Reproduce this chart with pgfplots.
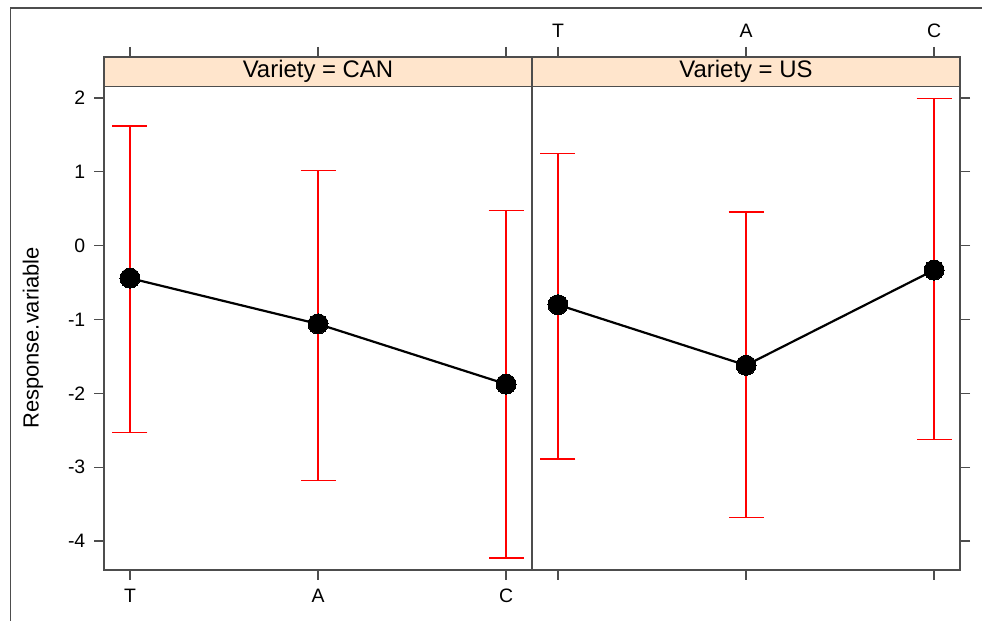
\documentclass[border=0pt]{standalone}
\usepackage{fontspec}
\setmainfont{Liberation Sans}
\usepackage{pgfplots}
\pgfplotsset{compat=1.18}
\definecolor{stripcol}{HTML}{FFE5CC}
\definecolor{axcol}{HTML}{4D4D4D}
\pgfplotsset{
  panel/.style={
    scale only axis, width=428bp, height=513bp,
    xmin=0.862, xmax=3.138, ymin=-4.393, ymax=2.556,
    xtick={1,2,3}, xticklabels={T,A,C}, ytick={-4,-3,-2,-1,0,1,2},
    tick align=outside, major tick length=10bp,
    tick style={axcol, line width=1.2bp},
    axis line style={axcol, line width=1.2bp},
    axis on top,
    /pgf/number format/assume math mode=true,
    every tick label/.append style={font=\fontsize{19.5}{21}\selectfont},
    xtick pos=both,
  },
  ebar/.style={only marks, mark=none, forget plot,
    error bars/.cd, y dir=both, y explicit, error mark=|,
    error bar style={red, line width=1.3bp},
    error mark options={red, mark size=17.5bp, line width=1.3bp}},
  meanline/.style={black, line width=2.2bp, mark=*, mark size=10bp,
    mark options={fill=black, line width=0pt}},
}
\pgfplotstableread{
x y ep em
1 -0.44 2.06 2.09
2 -1.06 2.08 2.12
3 -1.875 2.355 2.355
}\can
\pgfplotstableread{
x y ep em
1 -0.80 2.05 2.09
2 -1.62 2.075 2.06
3 -0.33 2.32 2.30
}\us
\begin{document}
\begin{tikzpicture}[x=1bp,y=1bp]
\path[use as bounding box] (0,0) rectangle (982,621);
\draw[axcol, line width=1.5bp] (10.5,0) -- (10.5,613) -- (982,613);
\begin{axis}[panel, at={(104bp,51bp)}, anchor=south west,
  ytick pos=left, xticklabel pos=left,
  yticklabel style={inner xsep=8.5bp},
  xticklabel style={inner ysep=9bp}]
  \fill[stripcol] (axis cs:0.862,2.156) rectangle (axis cs:3.138,2.556);
  \draw[axcol, line width=1.2bp] (axis cs:0.862,2.156) -- (axis cs:3.138,2.156);
  \node[font=\fontsize{24}{26}\selectfont] at (axis cs:2,2.356) {Variety = CAN};
  \addplot[ebar] table[x=x, y=y, y error plus=ep, y error minus=em] {\can};
  \addplot[meanline] table[x=x, y=y] {\can};
\end{axis}
\begin{axis}[panel, at={(532bp,51bp)}, anchor=south west,
  ytick pos=right, yticklabels={}, xticklabel pos=right,
  xticklabel style={inner ysep=9bp}]
  \fill[stripcol] (axis cs:0.862,2.156) rectangle (axis cs:3.138,2.556);
  \draw[axcol, line width=1.2bp] (axis cs:0.862,2.156) -- (axis cs:3.138,2.156);
  \node[font=\fontsize{24}{26}\selectfont] at (axis cs:2,2.356) {Variety = US};
  \addplot[ebar] table[x=x, y=y, y error plus=ep, y error minus=em] {\us};
  \addplot[meanline] table[x=x, y=y] {\us};
\end{axis}
\node[rotate=90, font=\fontsize{22}{24}\selectfont] at (33,283) {Response.variable};
\end{tikzpicture}
\end{document}
